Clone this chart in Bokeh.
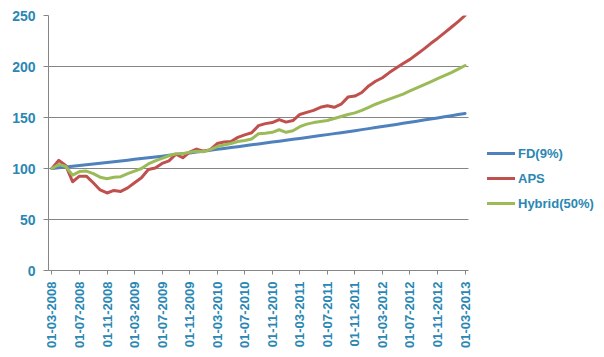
import math
from bokeh.plotting import figure
from bokeh.models import FixedTicker, Legend, LegendItem
from bokeh.embed import file_html
from bokeh.resources import INLINE

# ---- data (monthly, 01-03-2008 .. 01-03-2013) ----
tick_labels = ["01-03-2008", "01-07-2008", "01-11-2008", "01-03-2009", "01-07-2009",
               "01-11-2009", "01-03-2010", "01-07-2010", "01-11-2010", "01-03-2011",
               "01-07-2011", "01-11-2011", "01-03-2012", "01-07-2012", "01-11-2012",
               "01-03-2013"]

fd = [100.0, 100.7, 101.4, 102.2, 102.9, 103.7, 104.4, 105.2, 105.9, 106.7, 107.4, 108.2, 109.0,
      109.8, 110.5, 111.3, 112.1, 112.9, 113.7, 114.5, 115.3, 116.2, 117.0, 117.9, 118.8,
      119.6, 120.5, 121.4, 122.3, 123.2, 124.1, 125.0, 125.9, 126.8, 127.7, 128.6, 129.5,
      130.4, 131.3, 132.3, 133.2, 134.2, 135.1, 136.1, 137.1, 138.1, 139.1, 140.1, 141.2,
      142.2, 143.2, 144.3, 145.3, 146.4, 147.5, 148.5, 149.6, 150.7, 151.8, 152.9, 154.0]

aps = [100, 108, 103, 87, 92.5, 92.5, 86, 79, 76, 78.5, 77.5, 81, 86,
       91, 99, 100.5, 105, 107.5, 114, 110.5, 116, 119, 117, 118.5, 124.5,
       126, 126.5, 130.5, 133, 135, 142, 144, 145, 148, 145.5, 147, 153,
       155, 157, 160, 161.5, 160, 163, 170, 171, 174.5, 181, 185.5, 189,
       194, 198.5, 203, 207, 212, 217, 222.5, 227.5, 233, 238.5, 244, 250]

hybrid = [100, 104, 102, 93.5, 97, 97.5, 95, 91.5, 90, 91.5, 92, 95, 97.5,
          100, 104.5, 107.5, 110, 112.5, 114.5, 114.5, 116, 117, 116.5, 118.5, 121.5,
          123, 124.5, 126.5, 127.5, 129, 134, 134.5, 135.5, 138, 135.5, 137, 141,
          143.5, 145, 146, 147, 149, 151, 153, 154.5, 157, 160, 163, 165.5,
          168, 170.5, 173, 176, 179, 182, 185, 188, 191, 194, 197.5, 201]

y_ticks = [0, 50, 100, 150, 200, 250]
series_names = ["FD(9%)", "APS", "Hybrid(50%)"]
series_colors = ["#4F81BD", "#C0504D", "#9BBB59"]

TEAL = "#2A87B3"
FONT = "Liberation Sans"
GRID = "#868686"

n = len(fd)
x = list(range(n))
tick_pos = list(range(0, n, 4))

# layout (pixels)
W, H = 602, 352
LEFT, RIGHT, TOP, BOTTOM = 48, 0, 15, 82
PLOT_PX = 420            # width of the data area
frame_w = W - LEFT - RIGHT
x_end = -0.5 + frame_w * n / PLOT_PX   # extra room on the right for the legend

p = figure(width=W, height=H, x_range=(-0.5, x_end), y_range=(0, 250),
           output_backend="svg", toolbar_location=None,
           min_border_left=LEFT, min_border_right=RIGHT, min_border_top=TOP, min_border_bottom=BOTTOM)
p.outline_line_color = None
p.background_fill_color = "white"
p.border_fill_color = "white"

renderers = []
for vals, col in zip([fd, aps, hybrid], series_colors):
    r = p.line(x, vals, line_color=col, line_width=3, line_join="round", line_cap="round")
    renderers.append(r)

legend = Legend(items=[LegendItem(label=nm, renderers=[r]) for nm, r in zip(series_names, renderers)],
                location=(439, 57), orientation="vertical",
                glyph_width=28, glyph_height=20, label_height=20, label_standoff=3,
                spacing=5, padding=0, margin=0,
                border_line_alpha=0, background_fill_alpha=0,
                label_text_font=FONT, label_text_font_style="bold",
                label_text_font_size="13px", label_text_color=TEAL)
p.add_layout(legend)

# grid
p.xgrid.visible = False
p.ygrid.grid_line_color = GRID
p.ygrid.grid_line_width = 1
p.ygrid.cross_bounds = (-0.5, n - 0.5)

# y axis
p.yaxis.ticker = FixedTicker(ticks=y_ticks)
p.yaxis.axis_line_color = GRID
p.yaxis.major_tick_line_color = GRID
p.yaxis.major_tick_in = 0
p.yaxis.major_tick_out = 5
p.yaxis.minor_tick_line_color = None
p.yaxis.major_label_standoff = 8
p.yaxis.major_label_text_font = FONT
p.yaxis.major_label_text_font_style = "bold"
p.yaxis.major_label_text_font_size = "14px"
p.yaxis.major_label_text_color = TEAL

# x axis
p.xaxis.bounds = (-0.5, n - 0.5)
p.xaxis.ticker = FixedTicker(ticks=tick_pos)
p.xaxis.major_label_overrides = {pos: lab for pos, lab in zip(tick_pos, tick_labels)}
p.xaxis.major_label_orientation = math.pi / 2
p.xaxis.axis_line_color = GRID
p.xaxis.major_tick_line_color = GRID
p.xaxis.major_tick_in = 0
p.xaxis.major_tick_out = 4
p.xaxis.minor_tick_line_color = None
p.xaxis.major_label_standoff = 7
p.xaxis.major_label_text_font = FONT
p.xaxis.major_label_text_font_style = "bold"
p.xaxis.major_label_text_font_size = "13px"
p.xaxis.major_label_text_color = TEAL

open("out.html", "w").write(file_html(p, INLINE))
